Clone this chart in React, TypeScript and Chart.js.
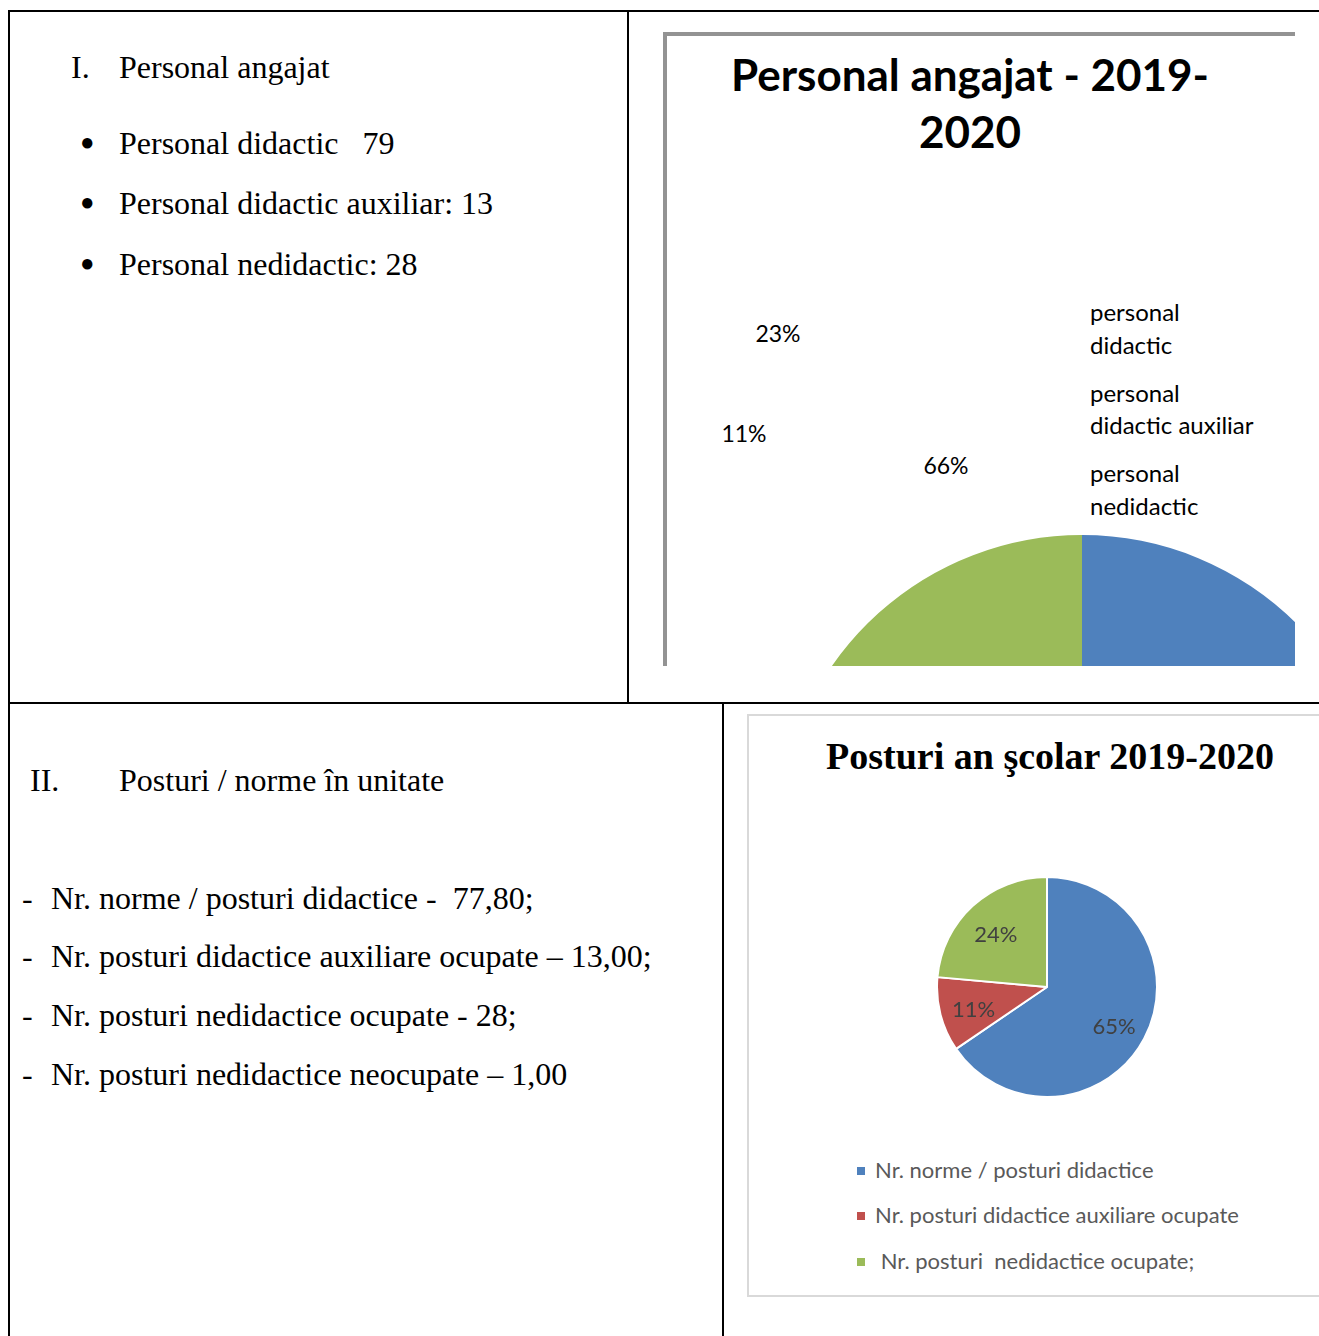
import React, { useEffect, useRef } from "react";
import { Chart, registerables } from "chart.js";

Chart.register(...registerables);

// ---- Data ----
const staffTitle = ["Personal angajat - 2019-", "2020"];
const staffLabels = ["personal didactic", "personal didactic auxiliar", "personal nedidactic"];
const staffValues = [79, 13, 28];

const postTitle = "Posturi an şcolar 2019-2020";
const postLabels = [
  "Nr. norme / posturi didactice",
  "Nr. posturi didactice auxiliare ocupate",
  " Nr. posturi  nedidactice ocupate;",
];
const postValues = [77.8, 13, 28];

const sliceColors = ["#4f81bd", "#c0504d", "#9bbb59"];

const sectionOneHeading = ["I.", "Personal angajat"];
const sectionOneItems = [
  "Personal didactic   79",
  "Personal didactic auxiliar: 13",
  "Personal nedidactic: 28",
];
const sectionTwoHeading = ["II.", "Posturi / norme în unitate"];
const sectionTwoItems = [
  "Nr. norme / posturi didactice -  77,80;",
  "Nr. posturi didactice auxiliare ocupate – 13,00;",
  "Nr. posturi nedidactice ocupate - 28;",
  "Nr. posturi nedidactice neocupate – 1,00",
];

const percents = (vals: number[]) => {
  const total = vals.reduce((a, b) => a + b, 0);
  return vals.map((v) => Math.round((v / total) * 100) + "%");
};

const SERIF = '"Liberation Serif", "Times New Roman", serif';
const SANS = 'Lato, "Open Sans", sans-serif';

const pieLabelPlugin = {
  id: "pieLabels",
  afterDatasetsDraw(chart: any) {
    const meta = chart.getDatasetMeta(0);
    const ctx = chart.ctx;
    const data = chart.data.datasets[0].data as number[];
    const labels = percents(data);
    ctx.save();
    ctx.font = "22px Lato";
    ctx.fillStyle = "#404040";
    ctx.textAlign = "center";
    ctx.textBaseline = "middle";
    meta.data.forEach((arc: any, i: number) => {
      const p = arc.getProps(["x", "y", "startAngle", "endAngle", "outerRadius"], true);
      const a = (p.startAngle + p.endAngle) / 2;
      const r = p.outerRadius * 0.69;
      ctx.fillText(labels[i], p.x + Math.cos(a) * r, p.y + Math.sin(a) * r + 4);
    });
    ctx.restore();
  },
};

function PieCanvas({
  values,
  labels,
  size,
  border,
  withLabels,
}: {
  values: number[];
  labels: string[];
  size: number;
  border: number;
  withLabels: boolean;
}) {
  const ref = useRef<HTMLCanvasElement | null>(null);
  useEffect(() => {
    if (!ref.current) return;
    const chart = new Chart(ref.current, {
      type: "pie",
      data: {
        labels,
        datasets: [
          {
            data: values,
            backgroundColor: sliceColors,
            borderColor: "#ffffff",
            borderWidth: border,
          },
        ],
      },
      options: {
        animation: false,
        responsive: false,
        maintainAspectRatio: false,
        layout: { padding: 0 },
        plugins: {
          legend: { display: false },
          tooltip: { enabled: false },
          title: { display: false },
        },
      },
      plugins: withLabels ? [pieLabelPlugin] : [],
    });
    return () => chart.destroy();
  }, []);
  return <canvas ref={ref} width={size} height={size} style={{ width: size, height: size, display: "block" }} />;
}

function Txt({
  x,
  cy,
  fs,
  family,
  weight,
  color,
  children,
  center,
  k,
}: {
  x: number;
  cy: number;
  fs: number;
  family: string;
  weight?: number | string;
  color?: string;
  children: React.ReactNode;
  center?: boolean;
  k: number;
}) {
  return (
    <div
      style={{
        position: "absolute",
        left: x,
        top: cy - k * fs,
        fontSize: fs,
        lineHeight: 1,
        fontFamily: family,
        fontWeight: weight ?? 400,
        color: color ?? "#000",
        whiteSpace: "pre",
        transform: center ? "translateX(-50%)" : undefined,
      }}
    >
      {children}
    </div>
  );
}

const line = (l: number, t: number, w: number, h: number, c = "#000") => (
  <div style={{ position: "absolute", left: l, top: t, width: w, height: h, background: c }} />
);

export default function App() {
  const staffPct = percents(staffValues);
  const serifK = 0.5;
  const sansK = 0.53;
  return (
    <div
      style={{
        position: "absolute",
        left: 0,
        top: 0,
        width: 1319,
        height: 1336,
        overflow: "hidden",
        background: "#fff",
      }}
    >
      {/* table lines */}
      {line(8, 10, 1311, 2)}
      {line(8, 10, 2, 1326)}
      {line(627, 10, 2, 693)}
      {line(8, 702, 1311, 2)}
      {line(722, 702, 2, 634)}

      {/* Section I text */}
      <Txt x={71} cy={67} fs={32} family={SERIF} k={serifK}>{sectionOneHeading[0]}</Txt>
      <Txt x={119} cy={67} fs={32} family={SERIF} k={serifK}>{sectionOneHeading[1]}</Txt>
      {sectionOneItems.map((t, i) => (
        <React.Fragment key={t}>
          <Txt x={80} cy={[143, 203, 264][i]} fs={24} family={SERIF} k={0.55}>●</Txt>
          <Txt x={119} cy={[143, 203, 264][i]} fs={32} family={SERIF} k={serifK}>{t}</Txt>
        </React.Fragment>
      ))}

      {/* Section II text */}
      <Txt x={30} cy={780} fs={32} family={SERIF} k={serifK}>{sectionTwoHeading[0]}</Txt>
      <Txt x={119} cy={780} fs={32} family={SERIF} k={serifK}>{sectionTwoHeading[1]}</Txt>
      {sectionTwoItems.map((t, i) => (
        <React.Fragment key={t}>
          <Txt x={22} cy={[898, 956, 1015, 1074][i]} fs={32} family={SERIF} k={serifK}>-</Txt>
          <Txt x={51} cy={[898, 956, 1015, 1074][i]} fs={32} family={SERIF} k={serifK}>{t}</Txt>
        </React.Fragment>
      ))}

      {/* Chart 1 (clipped) */}
      <div style={{ position: "absolute", left: 663, top: 32, width: 632, height: 634, overflow: "hidden" }}>
        <div style={{ position: "absolute", left: 115, top: 503 }}>
          <PieCanvas values={staffValues} labels={staffLabels} size={608} border={0} withLabels={false} />
        </div>
      </div>
      {line(663, 32, 632, 4, "#939393")}
      {line(663, 32, 4, 634, "#939393")}
      <Txt x={970} cy={75} fs={44} family={SANS} weight={700} k={sansK} center>{staffTitle[0]}</Txt>
      <Txt x={970} cy={132} fs={44} family={SANS} weight={700} k={sansK} center>{staffTitle[1]}</Txt>
      <Txt x={778} cy={334} fs={23} family={SANS} k={sansK} center>{staffPct[2]}</Txt>
      <Txt x={744} cy={434} fs={23} family={SANS} k={sansK} center>{staffPct[1]}</Txt>
      <Txt x={946} cy={466} fs={23} family={SANS} k={sansK} center>{staffPct[0]}</Txt>
      {staffLabels.map((l, i) => {
        const sp = l.indexOf(" ");
        const ys = [[313, 346], [394, 426], [474, 507]][i];
        return (
          <React.Fragment key={l}>
            <Txt x={1090} cy={ys[0]} fs={24} family={SANS} k={sansK}>{l.slice(0, sp)}</Txt>
            <Txt x={1090} cy={ys[1]} fs={24} family={SANS} k={sansK}>{l.slice(sp + 1)}</Txt>
          </React.Fragment>
        );
      })}

      {/* Chart 2 */}
      <div
        style={{
          position: "absolute",
          left: 747,
          top: 714,
          width: 600,
          height: 579,
          border: "2px solid #d9d9d9",
        }}
      />
      <Txt x={1050} cy={756} fs={38} family={SERIF} weight={700} k={serifK} center>{postTitle}</Txt>
      <div style={{ position: "absolute", left: 936, top: 876 }}>
        <PieCanvas values={postValues} labels={postLabels} size={222} border={2} withLabels={true} />
      </div>
      {postLabels.map((l, i) => {
        const cy = [1171, 1216, 1262][i];
        return (
          <React.Fragment key={l}>
            <div style={{ position: "absolute", left: 857, top: cy - 4, width: 8, height: 8, background: sliceColors[i] }} />
            <Txt x={875} cy={cy} fs={22} family={SANS} color="#595959" k={sansK}>{l}</Txt>
          </React.Fragment>
        );
      })}
    </div>
  );
}
